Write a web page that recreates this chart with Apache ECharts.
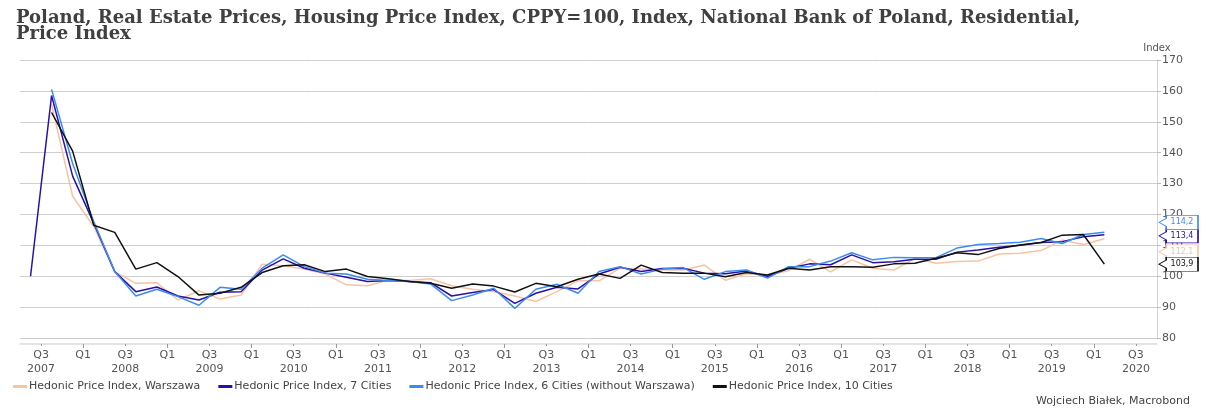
<!DOCTYPE html>
<html lang="en">
  <head>
    <meta charset="UTF-8" />
    <title>Poland Housing Price Index</title>
    <script src="https://cdn.jsdelivr.net/npm/echarts@6.0.0/dist/echarts.min.js"></script>
    <style>
      body {
        margin: 0;
        padding: 0;
      }
      #main {
        width: 1206px;
        height: 408px;
      }
    </style>
  </head>
  <body>
    <div id="main"></div>

    <script>
      // quarterly observations, Q2 2007 .. Q1 2020
      var quarters = [
        '2007 Q2', '2007 Q3', '2007 Q4',
        '2008 Q1', '2008 Q2', '2008 Q3', '2008 Q4',
        '2009 Q1', '2009 Q2', '2009 Q3', '2009 Q4',
        '2010 Q1', '2010 Q2', '2010 Q3', '2010 Q4',
        '2011 Q1', '2011 Q2', '2011 Q3', '2011 Q4',
        '2012 Q1', '2012 Q2', '2012 Q3', '2012 Q4',
        '2013 Q1', '2013 Q2', '2013 Q3', '2013 Q4',
        '2014 Q1', '2014 Q2', '2014 Q3', '2014 Q4',
        '2015 Q1', '2015 Q2', '2015 Q3', '2015 Q4',
        '2016 Q1', '2016 Q2', '2016 Q3', '2016 Q4',
        '2017 Q1', '2017 Q2', '2017 Q3', '2017 Q4',
        '2018 Q1', '2018 Q2', '2018 Q3', '2018 Q4',
        '2019 Q1', '2019 Q2', '2019 Q3', '2019 Q4',
        '2020 Q1'
      ];

      // tick labels on the time axis (start of quarter)
      var tickQuarters = [
        '2007 Q3', '2008 Q1', '2008 Q3', '2009 Q1', '2009 Q3', '2010 Q1', '2010 Q3',
        '2011 Q1', '2011 Q3', '2012 Q1', '2012 Q3', '2013 Q1', '2013 Q3', '2014 Q1',
        '2014 Q3', '2015 Q1', '2015 Q3', '2016 Q1', '2016 Q3', '2017 Q1', '2017 Q3',
        '2018 Q1', '2018 Q3', '2019 Q1', '2019 Q3', '2020 Q1', '2020 Q3'
      ];
      var axisStart = '2007 Q2';
      var axisEnd = '2020 Q4';

      var warszawa = [
        null, 155.6, 125.9, 116.1, 101.5, 97.7, 97.9, 92.3, 95.3, 92.6, 93.9,
        103.9, 103.4, 102.3, 100.7, 97.2, 96.9, 98.8, 98.6, 99.2, 96.9, 95.8,
        95.0, 93.6, 91.8, 95.0, 98.5, 98.5, 102.6, 102.3, 102.0, 102.0, 103.6,
        98.7, 100.8, 100.4, 101.8, 105.5, 101.4, 105.3, 102.6, 102.0, 105.8,
        104.2, 104.8, 104.9, 107.2, 107.4, 108.3, 111.7, 110.3, 112.1
      ];
      var sevenCities = [
        100.0, 158.5, 132.4, 117.2, 101.5, 95.0, 96.5, 93.6, 92.3, 94.8, 95.0,
        102.0, 105.6, 102.6, 101.0, 99.7, 98.3, 98.6, 98.3, 97.9, 93.6, 94.7,
        95.7, 91.2, 94.5, 96.4, 95.9, 100.7, 102.9, 101.5, 102.5, 102.6, 101.0,
        100.8, 101.7, 99.9, 102.6, 104.0, 103.7, 106.9, 104.4, 104.7, 105.5,
        105.5, 107.8, 108.5, 109.4, 110.0, 110.9, 111.2, 112.8, 113.4
      ];
      var sixCities = [
        null, 160.5, 136.5, 117.7, 101.5, 93.6, 95.8, 93.4, 90.6, 96.4, 95.8,
        102.6, 106.9, 103.1, 101.0, 100.7, 99.0, 98.6, 98.3, 97.5, 92.1, 93.9,
        96.1, 89.6, 95.8, 97.4, 94.5, 101.5, 103.1, 100.7, 102.3, 102.8, 99.0,
        101.5, 102.0, 99.4, 103.1, 103.1, 104.9, 107.6, 105.3, 106.1, 106.0,
        106.0, 109.1, 110.3, 110.6, 111.0, 112.2, 110.6, 113.5, 114.2
      ];
      var tenCities = [
        null, 153.0, 140.5, 116.5, 114.2, 102.3, 104.4, 99.9, 93.9, 94.5, 96.4,
        101.2, 103.4, 103.7, 101.5, 102.3, 99.9, 99.2, 98.3, 97.7, 96.1, 97.5,
        96.8, 94.9, 97.7, 96.6, 99.0, 100.7, 99.3, 103.6, 101.2, 101.0, 101.0,
        99.8, 101.2, 100.4, 102.6, 102.0, 103.1, 103.1, 102.9, 104.0, 104.2,
        105.8, 107.6, 107.0, 109.0, 110.1, 110.9, 113.3, 113.5, 103.9
      ];

      var seriesNames = [
        'Hedonic Price Index, Warszawa',
        'Hedonic Price Index, 7 Cities',
        'Hedonic Price Index, 6 Cities (without Warszawa)',
        'Hedonic Price Index, 10 Cities'
      ];
      var seriesColors = ['#f8c3a3', '#2a10a8', '#3b8cf2', '#111111'];
      // vertical nudge of the end-value tags so they don't overlap
      var tagShift = [13, 1, -10, 0];

      // 'YYYY Qn' -> fractional year at the start of the quarter
      function qStart(q) {
        var p = q.split(' Q');
        return +p[0] + (+p[1] - 1) / 4;
      }
      function qMid(q) {
        return qStart(q) + 0.125;
      }

      var xMin = qStart(axisStart);
      var xMax = qStart(axisEnd);
      var tickVals = tickQuarters.map(qStart);
      var yearTicks = tickQuarters.filter(function (q) { return /Q1$/.test(q); }).map(qStart);

      var tagPath = 'path://M0,7 L7,3 L7,0 L38,0 L38,14 L7,14 L7,11 Z';

      function makeSeries(name, values, color, shift) {
        var last = values[values.length - 1];
        return {
          name: name,
          type: 'line',
          symbol: 'none',
          lineStyle: { width: 1.5, color: color },
          itemStyle: { color: color },
          data: values.map(function (v, i) {
            return [qMid(quarters[i]), v];
          }),
          markPoint: {
            symbol: tagPath,
            symbolSize: [39, 14],
            symbolOffset: [21.5, shift],
            itemStyle: { color: '#fff', borderColor: color, borderWidth: 1 },
            label: {
              show: true,
              position: 'inside',
              offset: [3.5, 0],
              color: color,
              fontSize: 8,
              fontFamily: 'DejaVu Sans',
              formatter: function (p) {
                return p.value.toFixed(1).replace('.', ',');
              }
            },
            data: [{ coord: [xMax, last], value: last }]
          }
        };
      }

      var chart = echarts.init(document.getElementById('main'));

      var option = {
        animation: false,
        textStyle: { fontFamily: 'DejaVu Sans' },
        title: [
          {
            text: 'Poland, Real Estate Prices, Housing Price Index, CPPY=100, Index, National Bank of Poland, Residential,\nPrice Index',
            left: 11,
            top: 5,
            textStyle: {
              fontFamily: 'DejaVu Serif',
              fontWeight: 'bold',
              fontSize: 18,
              lineHeight: 16,
              color: '#404040'
            }
          },
          {
            text: 'Wojciech Białek, Macrobond',
            right: 11,
            top: 391,
            textStyle: { fontFamily: 'DejaVu Sans', fontWeight: 'normal', fontSize: 11, color: '#444' }
          }
        ],
        legend: {
          left: 8,
          top: 376,
          icon: 'rect',
          itemWidth: 14,
          itemHeight: 3,
          itemGap: 18,
          textStyle: { fontSize: 11, color: '#444', padding: [0, 0, 0, -3] },
          data: seriesNames
        },
        grid: {
          left: 20,
          right: 49,
          top: 60,
          bottom: 70
        },
        xAxis: [
          {
            type: 'value',
            min: xMin,
            max: xMax,
            offset: 6,
            axisLine: { show: true, lineStyle: { color: '#dcdcdc', width: 1.5 } },
            axisTick: {
              show: true,
              length: 2,
              customValues: tickVals,
              lineStyle: { color: '#999' }
            },
            axisLabel: {
              customValues: tickVals,
              color: '#555',
              fontSize: 11,
              lineHeight: 14,
              margin: 4,
              formatter: function (v) {
                var y = Math.floor(v + 1e-6);
                return v - y > 0.25 ? 'Q3\n' + y : 'Q1';
              }
            },
            splitLine: { show: false }
          },
          {
            type: 'value',
            position: 'bottom',
            min: xMin,
            max: xMax,
            offset: 6,
            axisLine: { show: false },
            axisTick: {
              show: true,
              length: 4,
              customValues: yearTicks,
              lineStyle: { color: '#999' }
            },
            axisLabel: { show: false },
            splitLine: { show: false }
          }
        ],
        yAxis: {
          type: 'value',
          position: 'right',
          min: 80,
          max: 170,
          interval: 10,
          name: 'Index',
          nameLocation: 'end',
          nameGap: 7,
          nameTextStyle: { fontSize: 10, color: '#555', align: 'center' },
          axisLine: { show: true, lineStyle: { color: '#d4d4d4' } },
          axisTick: { show: true, length: 4, lineStyle: { color: '#bbb' } },
          axisLabel: { color: '#555', fontSize: 11, margin: 5 },
          splitLine: { lineStyle: { color: '#cfcfcf', width: 1 } }
        },
        series: [
          makeSeries(seriesNames[0], warszawa, seriesColors[0], tagShift[0]),
          makeSeries(seriesNames[1], sevenCities, seriesColors[1], tagShift[1]),
          makeSeries(seriesNames[2], sixCities, seriesColors[2], tagShift[2]),
          makeSeries(seriesNames[3], tenCities, seriesColors[3], tagShift[3])
        ]
      };

      chart.setOption(option);
    </script>
  </body>
</html>
